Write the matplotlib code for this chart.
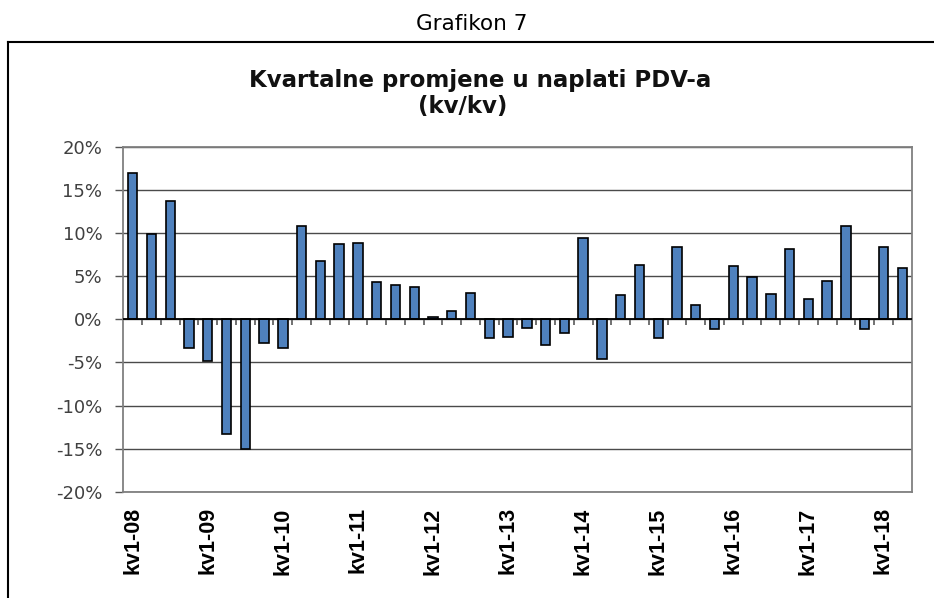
import matplotlib.pyplot as plt
from matplotlib.lines import Line2D

# quarterly labels kv1-08 ... kv2-18
years = ['08', '09', '10', '11', '12', '13', '14', '15', '16', '17', '18']
quarters = ['kv1', 'kv2', 'kv3', 'kv4']
labels = [q + '-' + y for y in years for q in quarters][:42]

# change in VAT collection, % q/q
values = [17.0, 9.9, 13.7, -3.3, -4.8, -13.3, -15.0, -2.7, -3.3, 10.8,
          6.8, 8.7, 8.8, 4.3, 4.0, 3.8, 0.3, 1.0, 3.1, -2.2,
          -2.0, -1.0, -3.0, -1.6, 9.4, -4.6, 2.85, 6.35, -2.2, 8.35,
          1.65, -1.15, 6.2, 4.9, 2.95, 8.1, 2.35, 4.45, 10.8, -1.15,
          8.35, 5.9]

yticks = [-20, -15, -10, -5, 0, 5, 10, 15, 20]

plt.rcParams['font.family'] = ['DejaVu Sans']

fig = plt.figure(figsize=(9.34, 5.98), dpi=100)
ax = fig.add_axes([0.132, 0.1773, 0.844, 0.5774])

x = list(range(len(values)))
ax.bar(x, values, width=0.5, color='#4F81BD', edgecolor='black', linewidth=1.2, zorder=3)

ax.set_xlim(-0.5, len(values) - 0.5)
ax.set_ylim(-20, 20)
ax.set_yticks(yticks)
ax.set_yticklabels([f'{v}%' for v in yticks], fontsize=13, color='#404040')
ax.grid(axis='y', color='#4a4a4a', linewidth=1, zorder=0)
ax.axhline(0, color='black', linewidth=1.3, zorder=4)
ax.tick_params(axis='y', length=6, width=1, color='#555555', pad=9)

# small ticks between categories, hanging below the zero line
bounds = [i + 0.5 for i in x[:-1]]
ax.vlines(bounds, 0, -0.7, color='#666666', linewidth=1.3, zorder=2)

# labels only at first quarter of each year
lab_pos = [i for i, l in enumerate(labels) if l.startswith('kv1')]
ax.set_xticks(lab_pos)
ax.set_xticklabels([labels[i] for i in lab_pos], rotation=90, fontsize=15.5,
                   fontweight='bold', family='Liberation Sans')
ax.tick_params(axis='x', length=0, pad=11)

for s in ax.spines.values():
    s.set_color('#808080')
    s.set_linewidth(1.3)

fig.text(0.505, 0.95, 'Grafikon 7', ha='center', va='baseline', fontsize=15.5)
fig.text(0.514, 1 - 87 / 598, 'Kvartalne promjene u naplati PDV-a', ha='center',
         va='baseline', fontsize=16.5, fontweight='bold', color='#111111')
fig.text(0.495, 1 - 113 / 598, '(kv/kv)', ha='center',
         va='baseline', fontsize=16.5, fontweight='bold', color='#111111')

# outer frame
fig.add_artist(Line2D([0.009, 1.0], [0.93, 0.93], transform=fig.transFigure,
                      color='black', linewidth=1.5))
fig.add_artist(Line2D([0.009, 0.009], [0.0, 0.93], transform=fig.transFigure,
                      color='black', linewidth=1.5))

fig.savefig('out.png', dpi=100)
